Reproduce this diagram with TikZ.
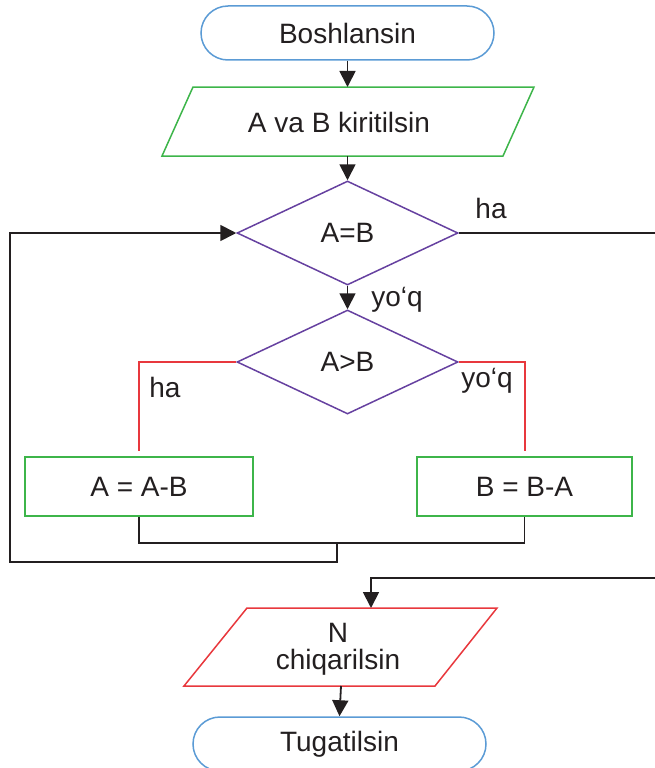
\documentclass[tikz,border=0pt]{standalone}
\usepackage{fontspec}
\setmainfont{Liberation Sans}
\usetikzlibrary{shapes.geometric,arrows.meta}
\definecolor{cblue}{HTML}{5B9BD5}
\definecolor{cgreen}{HTML}{3DB54A}
\definecolor{cpurple}{HTML}{6641A0}
\definecolor{cred}{HTML}{E8383D}
\definecolor{cline}{HTML}{231F20}
\begin{document}
\begin{tikzpicture}[x=1pt,y=-1pt,
  every node/.style={font=\fontsize{28}{27}\selectfont, text=cline},
  term/.style={draw=cblue, line width=1.5pt, rounded corners=27pt, minimum width=293pt, minimum height=54pt, inner sep=0pt},
  procbox/.style={draw=cgreen, line width=1.5pt, minimum width=228pt, minimum height=59pt, inner sep=0pt},
  dec/.style={diamond, draw=cpurple, line width=1.5pt, minimum width=221pt, minimum height=104pt, inner sep=0pt},
  iobox/.style={line width=1.5pt},
  flow/.style={draw=cline, line width=1.8pt},
  arr/.style={flow, -{Triangle[length=16pt,width=16pt]}},
  redline/.style={draw=cred, line width=1.6pt},
  lbl/.style={inner sep=0pt}]
\useasboundingbox (0,0) rectangle (654,768);

% nodes
\node[term] (start) at (347.5,33) {Boshlansin};

\draw[iobox, draw=cgreen] (193,87) -- (534,87) -- (503,156) -- (162,156) -- cycle;
\coordinate (intop) at (347.5,87);
\coordinate (inbot) at (347.5,156);
\node (intext) at (339,122) {A va B kiritilsin};

\node[dec] (eq) at (347.5,233) {A=B};
\node[dec] (gt) at (347.5,362) {A>B};

\node[procbox] (sub1) at (139,486.5) {A = A-B};
\node[procbox, minimum width=215pt] (sub2) at (524.5,486.5) {B = B-A};

\draw[iobox, draw=cred] (247,608) -- (497,608) -- (435,686) -- (184,686) -- cycle;
\coordinate (outtop) at (371,608);
\coordinate (outbot) at (341,686);
\node[align=center, inner sep=0pt] (outtext) at (338,649) {N\\chiqarilsin};

\node[term] (end) at (339.5,744) {Tugatilsin};

% helper coordinates
\coordinate (c1) at (139,451);
\coordinate (c2) at (525,451);
\coordinate (j) at (337,543);
\coordinate (lb) at (10,562);
\coordinate (rb) at (656,578);

% connectors
\draw[arr] (start.south) -- (intop);
\draw[arr] (inbot) -- (eq.north);
\draw[arr] (eq.south) -- (gt.north);
\draw[redline] (gt.west) -| (c1);
\draw[redline] (gt.east) -| (c2);
\draw[flow] (sub1.south) |- (j) -| (sub2.south);
\draw[arr] (j) |- (lb) |- (eq.west);
\draw[arr] (eq.east) -| (rb) -| (outtop);
\draw[arr] (outbot) -- (end.north);

% labels
\node[lbl] (ha1) at (491,208) {ha};
\node[lbl] (no1) at (397,300) {yo‘q};
\node[lbl] (ha2) at (165,387) {ha};
\node[lbl] (no2) at (487,381) {yo‘q};
\end{tikzpicture}
\end{document}
